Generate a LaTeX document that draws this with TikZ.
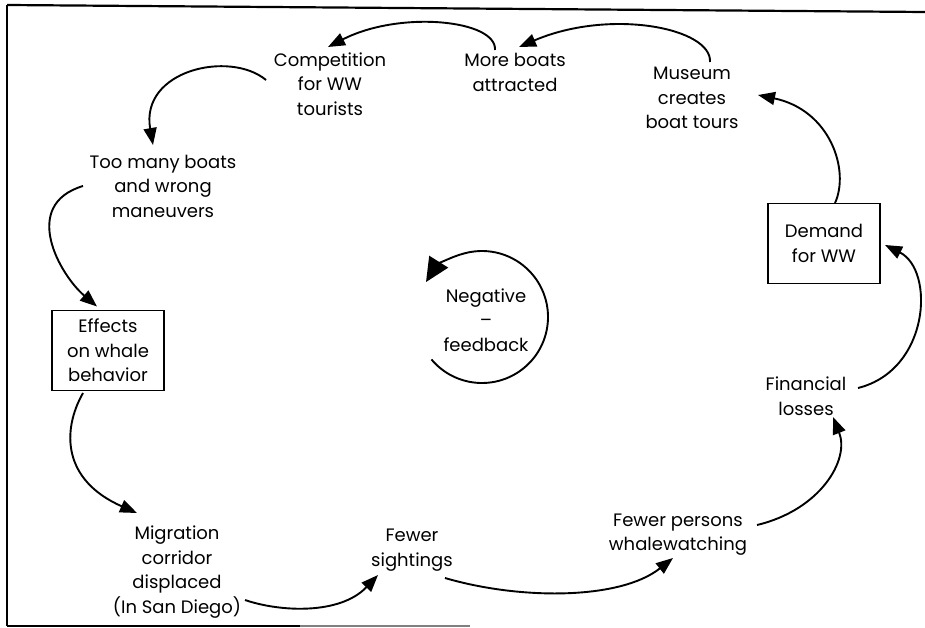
\documentclass[tikz,border=0pt]{standalone}
\usepackage{fontspec}
\setmainfont{Poppins}
\usetikzlibrary{arrows.meta}
\begin{document}
\begin{tikzpicture}[x=1pt,y=-1pt,
  lbl/.style={align=center, inner sep=0pt, font=\fontsize{18}{24.5}\selectfont},
  boxed/.style={lbl, draw, line width=1.8pt, minimum width=112pt, minimum height=80pt},
  link/.style={line width=1.9pt, -{Triangle[length=17pt,width=13pt]}},
  frame/.style={line width=2.2pt}]
\useasboundingbox (0,0) rectangle (925,628);

% outer frame (open on the right)
\draw[frame] (7,5) -- (925,12);
\draw[frame] (7,5) -- (7,626);
\draw[frame] (7,626) -- (300,626);
\draw[frame, gray] (300,626) -- (470,626);

% causal chain
\node[lbl] (comp)    at (330,84)    {Competition\\for WW\\tourists};
\node[lbl] (more)    at (515,72.5)  {More boats\\attracted};
\node[lbl] (museum)  at (692,98)    {Museum\\creates\\boat tours};
\node[lbl] (toomany) at (163,186)   {Too many boats\\and wrong\\maneuvers};
\node[boxed] (effects) at (108,350.5) {Effects\\on whale\\behavior};
\node[boxed] (demand)  at (824,243.5) {Demand\\for WW};
\node[lbl] (neg)     at (486,320)   {Negative\\--\\feedback};
\node[lbl] (fin)     at (806,396)   {Financial\\losses};
\node[lbl] (mig)     at (177,572)   {Migration\\corridor\\displaced\\(In San Diego)};
\node[lbl] (sight)   at (412,550)   {Fewer\\sightings};
\node[lbl] (persons) at (678,534.5) {Fewer persons\\whalewatching};

% connectors
\draw[link] ([shift={(18,-36)}]museum.center) .. controls (712,28) and (610,8) .. ([shift={(4,-25.5)}]more.center);
\draw[link] ([shift={(-20,-22.5)}]more.center) .. controls (497,20) and (400,10) .. ([shift={(-2,-37)}]comp.center);
\draw[link] ([shift={(-64,-4)}]comp.center) .. controls (230,50) and (140,70) .. ([shift={(-10,-41)}]toomany.center);
\draw[link] ([shift={(-80,0)}]toomany.center) .. controls (20,205) and (60,275) .. ([shift={(-11,-44)}]effects.center);
\draw[link] ([shift={(-25,42.5)}]effects.center) .. controls (62,430) and (62,480) .. ([shift={(-40,-59)}]mig.center);
\draw[link] ([shift={(68,28)}]mig.center) .. controls (280,612) and (340,615) .. ([shift={(-34,25)}]sight.center);
\draw[link] ([shift={(33,28)}]sight.center) .. controls (520,600) and (620,600) .. ([shift={(-5,23.5)}]persons.center);
\draw[link] ([shift={(79,-9.5)}]persons.center) .. controls (820,510) and (850,460) .. ([shift={(27,21)}]fin.center);
\draw[link] ([shift={(52,-8)}]fin.center) .. controls (930,370) and (935,270) .. ([shift={(61,1.5)}]demand.center);
\draw[link] ([shift={(11,-40.5)}]demand.center) .. controls (850,170) and (830,110) .. ([shift={(66,-3)}]museum.center);

% loop marker around the centre label
\draw[line width=1.9pt, -{Triangle[length=24pt,width=22pt]}]
  ([shift={(-4,-3)}]neg.center) ++(140:66) arc[start angle=140, end angle=-148, radius=66];
\end{tikzpicture}
\end{document}
